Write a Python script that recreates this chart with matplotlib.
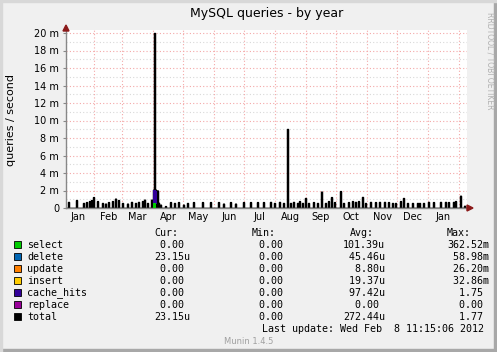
import datetime as dt

import matplotlib
matplotlib.use('Agg')
import matplotlib.pyplot as plt
import matplotlib.dates as mdates
import numpy as np
from matplotlib.patches import Polygon, Rectangle

W, H = 497, 352

START = dt.date(2011, 1, 4)
N_DAYS = 401

# black "total" line: day offset from START and value (milli queries / second)
total_day = [2, 10, 17, 20, 23, 25, 27, 31, 36, 39, 42, 46, 49, 52, 56, 61, 65, 69, 72,
             76, 78, 81, 85, 87, 88, 89, 90, 91, 92, 94, 99, 104, 108, 112, 117, 121, 127,
             136, 144, 152, 157, 164, 169, 177, 184, 191, 197, 204, 208, 213, 217, 221,
             224, 227, 231, 233, 236, 239, 242, 247, 251, 255, 259, 262, 265, 268, 274,
             277, 282, 286, 289, 292, 296, 299, 304, 309, 313, 318, 322, 326, 329, 334,
             337, 341, 346, 351, 353, 357, 362, 367, 374, 379, 382, 387, 389, 394, 398]
total_val = [0.69, 0.88, 0.57, 0.65, 0.76, 0.88, 1.22, 0.76, 0.57, 0.50, 0.65, 0.76, 1.07,
             0.88, 0.57, 0.50, 0.69, 0.57, 0.69, 0.76, 0.95, 0.57, 0.95, 2.10, 20.0, 2.10,
             2.00, 2.00, 0.60, 0.38, 0.20, 0.65, 0.57, 0.65, 0.38, 0.57, 0.65, 0.65, 0.65,
             0.65, 0.50, 0.65, 0.50, 0.65, 0.65, 0.65, 0.65, 0.69, 0.57, 0.69, 0.57, 9.03,
             0.57, 0.69, 0.57, 0.76, 0.57, 1.14, 0.57, 0.65, 0.57, 1.87, 0.57, 0.76, 1.22,
             0.65, 1.90, 0.57, 0.65, 0.76, 0.69, 0.76, 1.26, 0.57, 0.69, 0.65, 0.69, 0.69,
             0.65, 0.57, 0.57, 0.76, 1.14, 0.57, 0.57, 0.57, 0.57, 0.57, 0.69, 0.65, 0.69,
             0.69, 0.65, 0.69, 0.76, 1.40, 0.25]

# stacked components (only where visible)
select_day = [31, 87, 88, 89, 90, 142, 221, 353]
select_val = [0.15, 0.55, 0.55, 0.55, 0.50, 0.30, 0.55, 0.55]
delete_day = [49, 74, 85, 262, 291, 296, 324]
delete_val = [0.30, 0.20, 0.30, 0.35, 0.30, 0.25, 0.30]
update_day = [142, 331]
update_val = [0.20, 0.15]
insert_day = [337]
insert_val = [0.20]
cache_day = [46, 49, 87, 88, 89, 90, 91, 233, 265, 338]
cache_val = [0.15, 0.50, 1.50, 1.50, 1.50, 1.40, 1.40, 0.10, 0.10, 0.15]

series_names = ['select', 'delete', 'update', 'insert', 'cache_hits', 'replace', 'total']
series_colors = ['#00CC00', '#0066B3', '#FF8000', '#FFCC00', '#330099', '#990099', '#000000']
cur_vals = ['0.00', '23.15u', '0.00', '0.00', '0.00', '0.00', '23.15u']
min_vals = ['0.00'] * 7
avg_vals = ['101.39u', '45.46u', '8.80u', '19.37u', '97.42u', '0.00', '272.44u']
max_vals = ['362.52m', '58.98m', '26.20m', '32.86m', '1.75', '0.00', '1.77']

y_ticks = list(range(0, 21, 2))


def daily(days, vals):
    arr = np.zeros(N_DAYS + 1)
    arr[days] = vals
    return arr


def fx(x):
    return x / W


def fy(y):
    return 1 - y / H


dates = [START + dt.timedelta(days=i) for i in range(N_DAYS + 1)]
xd = mdates.date2num(dates)

fig = plt.figure(figsize=(W / 100, H / 100), dpi=100, facecolor='#F0F0F0')
ax = fig.add_axes([fx(66), fy(208), fx(467) - fx(66), fy(30) - fy(208)])
ax.set_facecolor('white')

# grid
for v in range(1, 21):
    col = '#F4A8A8' if v % 2 == 0 else '#D8D8D8'
    ax.axhline(v, color=col, lw=0.8, ls=(0, (1, 2)), zorder=1)
for m in range(2, 15):
    d = dt.date(2011 + (m - 1) // 12, (m - 1) % 12 + 1, 1)
    ax.axvline(mdates.date2num(d), color='#F4A8A8', lw=0.8, ls=(0, (1, 2)), zorder=1)

total = daily(total_day, total_val)
ax.fill_between(xd, total, step='post', color='black', lw=0.9, zorder=2)
ax.step(xd, total, where='post', color='black', lw=0.9, zorder=2)

bottom = np.zeros(N_DAYS + 1)
for days, vals, col in [(select_day, select_val, '#00CC00'),
                        (delete_day, delete_val, '#0066B3'),
                        (update_day, update_val, '#FF8000'),
                        (insert_day, insert_val, '#FFCC00'),
                        (cache_day, cache_val, '#330099')]:
    s = daily(days, vals)
    ax.fill_between(xd, bottom, bottom + s, where=s > 0, step='post', color=col, lw=0, zorder=3)
    bottom = bottom + s

ax.set_xlim(xd[0], xd[0] + N_DAYS)
ax.set_ylim(0, 178 / 8.75)
ax.set_yticks(y_ticks)
ax.set_yticklabels(['0' if v == 0 else f'{v} m' for v in y_ticks], fontsize=7)
ax.xaxis.set_major_locator(mdates.MonthLocator(bymonthday=16))
ax.xaxis.set_major_formatter(mdates.DateFormatter('%b'))
ax.tick_params(axis='x', length=0, labelsize=7, pad=3)
ax.tick_params(axis='y', length=2, color='#888888', pad=3)
for side in ['top', 'right']:
    ax.spines[side].set_visible(False)
for side in ['left', 'bottom']:
    ax.spines[side].set_color('#888888')
    ax.spines[side].set_linewidth(1)

# arrows
fig.add_artist(Polygon([[fx(63), fy(31)], [fx(69), fy(31)], [fx(66), fy(25)]],
                       closed=True, color='#8B1A1A', transform=fig.transFigure))
fig.add_artist(Polygon([[fx(467), fy(205)], [fx(467), fy(211)], [fx(473), fy(208)]],
                       closed=True, color='#8B1A1A', transform=fig.transFigure))

# frame shading
fig.add_artist(Rectangle((fx(494), 0), fx(3), 1, color='#A8A8A8', transform=fig.transFigure))
fig.add_artist(Rectangle((0, 0), 1, 3 / H, color='#A8A8A8', transform=fig.transFigure))
fig.add_artist(Rectangle((0, 0), fx(2), 1, color='#D8D8D8', transform=fig.transFigure))
fig.add_artist(Rectangle((0, fy(2)), 1, 2 / H, color='#D8D8D8', transform=fig.transFigure))

fig.text(fx(267), fy(13), 'MySQL queries - by year', ha='center', va='center', fontsize=9)
fig.text(fx(11), fy(120), 'queries / second', rotation=90, ha='center', va='center', fontsize=8)
fig.text(fx(490), fy(12), 'RRDTOOL / TOBI OETIKER', rotation=-90, ha='center', va='top',
         fontsize=5.5, color='#B0B0B0')

# legend
mono = dict(family='DejaVu Sans Mono', fontsize=7.2, va='center')
for x, head in [(154, 'Cur:'), (252, 'Min:'), (350, 'Avg:'), (447, 'Max:')]:
    fig.text(fx(x), fy(232.5), head, **mono)


def field(s, width):
    s = s if s[-1].isalpha() else s + ' '
    return s.rjust(width)


for i, name in enumerate(series_names):
    y = 244.5 + 12 * i
    fig.add_artist(Rectangle((fx(13.5), fy(y + 3.5)), fx(7), 7 / H, facecolor=series_colors[i],
                             edgecolor='black', lw=0.6, transform=fig.transFigure))
    fig.text(fx(27), fy(y), name, **mono)
    fig.text(fx(154), fy(y), field(cur_vals[i], 6), **mono)
    fig.text(fx(253), fy(y), field(min_vals[i], 6), **mono)
    fig.text(fx(343), fy(y), field(avg_vals[i], 7), **mono)
    fig.text(fx(447), fy(y), field(max_vals[i], 7), **mono)

fig.text(fx(262), fy(328.7), 'Last update: Wed Feb  8 11:15:06 2012', **mono)
fig.text(fx(249), fy(341), 'Munin 1.4.5', ha='center', va='center', fontsize=6, color='#A0A0A0')

fig.savefig('out.png', dpi=100, facecolor=fig.get_facecolor())
